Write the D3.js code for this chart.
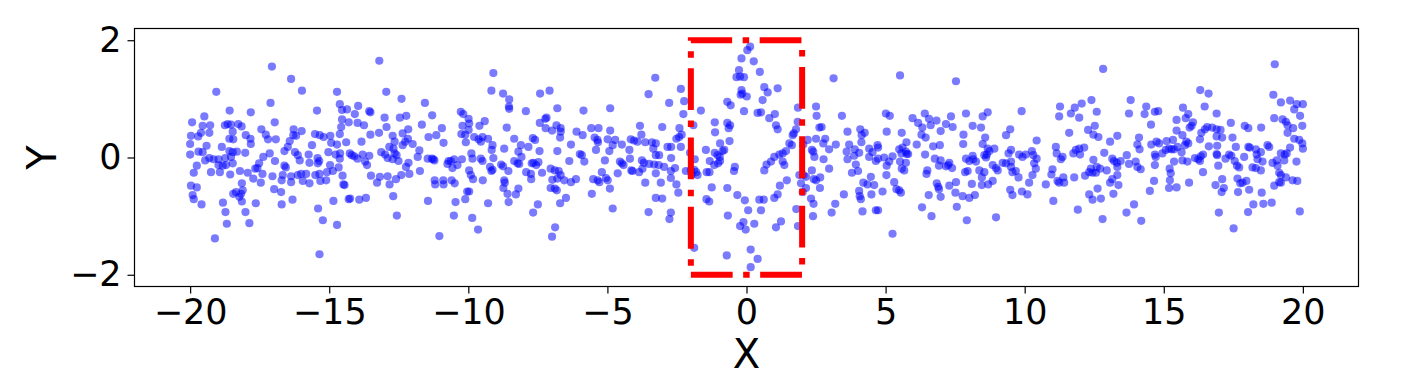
<!DOCTYPE html>
<html>
<head>
<meta charset="UTF-8">
<script src="https://cdn.jsdelivr.net/npm/d3@7"></script>
<style>
  html, body { margin: 0; padding: 0; background: #fff; }
  svg { display: block; font-family: "DejaVu Sans", sans-serif; }
</style>
</head>
<body>
<svg id="chart" width="1410" height="382"></svg>
<script>
// scatter points, [x, y]
const points = [
  [-17.06,1.55],[-19.06,1.12],[-17.11,0.93],[-18.58,0.80],[-17.82,0.77],[-19.49,0.70],[-19.93,0.60],[-16.96,0.60],[-18.75,0.55],[-18.65,0.57],[-18.53,0.56],[-18.27,0.57],[-18.15,0.53],[-19.55,0.54],[-19.28,0.55],[-17.44,0.48],[-19.97,0.37],[-19.71,0.36],[-19.61,0.42],[-19.31,0.42],[-18.47,0.44],[-18.45,0.31],[-18.00,0.38],[-17.83,0.32],[-17.28,0.39],[-17.20,0.31],[-16.92,0.31],[-18.59,0.32],[-20.00,0.23],[-19.41,0.20],[-17.82,0.23],[-18.86,0.18],[-20.00,0.05],[-19.70,0.10],[-19.55,0.09],[-18.59,0.11],[-18.47,0.09],[-18.32,0.10],[-18.02,0.08],[-17.14,0.07],[-19.31,-0.01],[-19.16,-0.03],[-18.98,-0.03],[-18.74,-0.01],[-18.53,0.01],[-17.37,0.01],[-16.95,-0.06],[-19.76,-0.14],[-19.46,-0.05],[-18.98,-0.13],[-18.83,-0.14],[-18.71,-0.13],[-18.47,-0.10],[-17.52,-0.10],[-17.58,-0.18],[-19.87,-0.26],[-19.25,-0.25],[-18.93,-0.25],[-18.56,-0.29],[-18.21,-0.23],[-17.93,-0.26],[-17.66,-0.19],[-17.40,-0.28],[-17.04,-0.32],[-17.73,-0.36],[-17.46,-0.43],[-18.14,-0.44],[-19.97,-0.48],[-19.76,-0.51],[-16.98,-0.54],[-18.35,-0.59],[-18.11,-0.56],[-18.17,-0.62],[-18.45,-0.62],[-18.23,-0.67],[-19.91,-0.64],[-19.87,-0.71],[-18.14,-0.75],[-19.59,-0.80],[-18.82,-0.77],[-17.64,-0.78],[-18.73,-0.93],[-18.01,-0.93],[-18.68,-1.13],[-17.87,-1.12],[-19.11,-1.38],
  [-16.37,1.34],[-15.98,1.14],[-14.72,1.12],[-15.44,0.80],[-14.62,0.91],[-14.54,0.81],[-14.36,0.82],[-13.96,0.88],[-13.56,0.79],[-13.52,0.77],[-14.54,0.65],[-14.30,0.60],[-14.08,0.74],[-13.98,0.59],[-13.75,0.55],[-16.28,0.48],[-15.99,0.45],[-16.29,0.38],[-16.19,0.37],[-14.57,0.52],[-14.62,0.40],[-15.51,0.40],[-15.34,0.38],[-15.20,0.35],[-14.96,0.37],[-13.52,0.39],[-16.42,0.28],[-16.49,0.18],[-16.61,0.11],[-15.62,0.21],[-14.72,0.22],[-14.39,0.26],[-13.84,0.27],[-14.93,0.25],[-16.23,0.09],[-16.13,0.04],[-16.06,-0.05],[-15.74,0.05],[-15.42,-0.01],[-15.36,-0.06],[-15.03,0.09],[-14.77,0.05],[-14.61,0.07],[-14.62,-0.02],[-14.26,0.07],[-14.19,0.04],[-14.10,0.02],[-13.98,-0.02],[-13.80,0.05],[-13.71,-0.07],[-13.64,-0.13],[-13.56,0.03],[-16.61,-0.14],[-16.56,-0.17],[-15.71,-0.09],[-15.41,-0.10],[-14.97,-0.13],[-14.66,-0.17],[-16.13,-0.30],[-16.01,-0.28],[-15.83,-0.28],[-16.37,-0.32],[-15.50,-0.30],[-15.35,-0.28],[-15.08,-0.25],[-15.32,-0.40],[-16.67,-0.30],[-16.71,-0.39],[-16.37,-0.42],[-15.95,-0.40],[-15.71,-0.44],[-15.11,-0.39],[-14.87,-0.23],[-14.52,-0.31],[-14.49,-0.46],[-14.45,-0.47],[-13.50,-0.31],[-16.73,-0.59],[-16.71,-0.80],[-16.32,-0.72],[-14.85,-0.74],[-14.30,-0.71],[-14.25,-0.70],[-13.92,-0.72],[-13.68,-0.69],[-15.40,-0.87],[-15.23,-1.07],[-14.72,-1.15],[-15.35,-1.65],
  [-13.20,1.65],[-12.95,1.12],[-12.40,1.00],[-11.56,0.93],[-10.27,0.78],[-10.18,0.74],[-11.30,0.72],[-13.01,0.68],[-12.46,0.68],[-12.23,0.71],[-12.94,0.52],[-10.21,0.54],[-11.67,0.56],[-10.95,0.50],[-13.21,0.42],[-12.72,0.37],[-12.36,0.41],[-12.16,0.48],[-11.15,0.38],[-11.43,0.35],[-10.25,0.40],[-10.11,0.39],[-12.65,0.27],[-12.27,0.27],[-12.17,0.32],[-12.00,0.23],[-10.89,0.25],[-10.09,0.26],[-12.84,0.18],[-12.69,0.15],[-12.36,0.21],[-11.76,0.12],[-13.13,0.09],[-12.99,0.05],[-12.90,-0.01],[-12.65,0.07],[-12.58,0.04],[-12.72,-0.03],[-11.82,0.01],[-11.46,-0.02],[-11.31,-0.02],[-11.26,-0.03],[-11.22,-0.05],[-12.51,-0.06],[-12.15,-0.09],[-12.24,-0.16],[-10.71,-0.06],[-10.75,-0.11],[-10.63,-0.06],[-10.51,-0.03],[-10.23,-0.03],[-10.57,-0.18],[-10.39,-0.13],[-11.74,-0.23],[-12.12,-0.28],[-12.41,-0.30],[-13.18,-0.33],[-12.90,-0.32],[-12.60,-0.37],[-12.83,-0.46],[-13.28,-0.43],[-11.21,-0.39],[-11.19,-0.46],[-10.90,-0.39],[-10.89,-0.46],[-10.60,-0.39],[-10.49,-0.44],[-10.04,-0.58],[-12.70,-0.66],[-11.45,-0.74],[-10.46,-0.76],[-10.11,-0.71],[-12.57,-0.99],[-10.52,-0.99],[-11.04,-1.34],
  [-9.10,1.44],[-9.17,1.14],[-8.75,1.09],[-8.53,0.99],[-8.54,0.87],[-8.53,0.83],[-7.42,1.09],[-7.08,1.14],[-7.93,0.79],[-6.80,0.84],[-7.19,0.68],[-7.23,0.66],[-7.43,0.59],[-7.22,0.50],[-6.99,0.46],[-6.83,0.55],[-6.68,0.50],[-6.68,0.44],[-9.99,0.66],[-9.97,0.58],[-9.99,0.47],[-9.41,0.62],[-9.60,0.54],[-8.62,0.51],[-9.79,0.35],[-9.49,0.35],[-9.29,0.32],[-9.55,0.27],[-9.63,0.31],[-8.35,0.32],[-7.68,0.33],[-7.60,0.30],[-6.70,0.34],[-9.13,0.21],[-8.71,0.15],[-8.11,0.21],[-7.84,0.18],[-7.44,0.11],[-6.80,0.11],[-9.89,0.07],[-9.85,-0.02],[-9.55,-0.02],[-9.49,-0.06],[-9.16,0.13],[-9.10,-0.01],[-8.20,0.10],[-8.09,0.01],[-8.35,-0.06],[-8.23,-0.10],[-8.17,-0.11],[-7.72,-0.10],[-7.66,-0.09],[-7.48,-0.08],[-7.56,-0.13],[-8.82,-0.12],[-8.75,-0.15],[-9.22,-0.16],[-9.13,-0.21],[-9.17,-0.23],[-8.56,-0.23],[-9.97,-0.22],[-9.91,-0.30],[-9.83,-0.37],[-9.48,-0.39],[-7.92,-0.25],[-7.75,-0.28],[-7.74,-0.37],[-7.35,-0.26],[-7.04,-0.19],[-6.89,-0.22],[-6.75,-0.23],[-6.98,-0.38],[-6.80,-0.36],[-6.68,-0.30],[-8.71,-0.39],[-8.69,-0.43],[-8.74,-0.52],[-8.59,-0.62],[-8.29,-0.63],[-8.20,-0.53],[-7.04,-0.52],[-6.89,-0.53],[-6.82,-0.56],[-9.97,-0.58],[-9.29,-0.78],[-8.55,-0.76],[-7.50,-0.80],[-7.67,-0.94],[-6.70,-0.78],[-9.86,-1.03],[-9.65,-1.23],[-6.88,-1.19],[-6.99,-1.35],
  [-3.28,1.36],[-3.52,1.08],[-5.86,0.80],[-4.90,0.84],[-3.83,0.54],[-3.78,0.39],[-5.58,0.50],[-5.32,0.50],[-4.90,0.46],[-6.11,0.44],[-5.89,0.38],[-5.46,0.34],[-5.36,0.30],[-5.34,0.26],[-5.41,0.13],[-4.99,0.31],[-4.72,0.30],[-4.81,0.21],[-4.93,0.11],[-4.48,0.22],[-4.16,0.31],[-4.04,0.29],[-3.92,0.27],[-3.64,0.26],[-3.40,0.26],[-3.26,0.24],[-6.31,0.22],[-4.21,0.13],[-3.35,0.15],[-3.26,0.04],[-5.99,0.06],[-5.92,0.04],[-5.83,-0.07],[-6.37,-0.06],[-5.09,-0.05],[-4.55,-0.07],[-4.48,-0.10],[-4.42,-0.13],[-4.19,-0.02],[-3.76,-0.05],[-3.69,-0.09],[-3.50,-0.11],[-3.32,-0.12],[-6.55,-0.39],[-3.74,-0.19],[-3.86,-0.25],[-4.10,-0.23],[-4.14,-0.22],[-4.63,-0.27],[-5.20,-0.25],[-5.05,-0.35],[-4.99,-0.39],[-5.35,-0.39],[-5.29,-0.42],[-5.51,-0.37],[-6.13,-0.37],[-6.31,-0.42],[-3.26,-0.27],[-4.91,-0.53],[-3.64,-0.43],[-5.56,-0.62],[-6.49,-0.69],[-3.26,-0.69],[-4.81,-0.87],[-3.52,-0.93],
  [-2.36,1.17],[-2.78,0.93],[-2.24,0.96],[-2.27,0.74],[-1.64,0.80],[-3.03,0.52],[-2.41,0.50],[-2.33,0.39],[-2.42,0.35],[-2.52,0.32],[-1.91,0.55],[-1.14,0.60],[-1.13,0.43],[-0.69,0.59],[-0.59,0.55],[-0.64,0.50],[-0.61,0.28],[-0.95,0.24],[-2.84,0.18],[-2.71,0.18],[-2.36,0.18],[-3.14,0.04],[-1.46,0.13],[-1.14,0.08],[-1.04,0.04],[-0.86,0.11],[-0.96,0.01],[-0.80,0.13],[-2.03,0.08],[-1.86,-0.03],[-2.71,-0.01],[-3.16,-0.13],[-3.08,-0.43],[-2.96,-0.16],[-2.57,-0.18],[-2.72,-0.23],[-2.72,-0.35],[-1.32,-0.06],[-1.02,-0.10],[-0.95,-0.06],[-1.16,-0.13],[-2.18,-0.23],[-2.00,-0.22],[-1.88,-0.21],[-1.81,-0.25],[-1.76,-0.30],[-1.97,-0.30],[-1.43,-0.25],[-1.33,-0.25],[-0.42,-0.16],[-0.45,-0.23],[-2.52,-0.46],[-2.45,-0.60],[-1.25,-0.51],[-0.69,-0.52],[-1.44,-0.71],[-1.34,-0.75],[-3.03,-0.70],[-0.33,-0.64],[-0.06,-0.73],[0.06,-0.90],[-2.72,-0.94],[-2.77,-1.05],[-0.67,-0.99],[-0.23,-1.17],[-0.11,-1.10],[-0.03,-1.23],[-1.88,-1.54],[-0.71,-1.67],[0.15,-1.57],[0.15,-1.87],[0.03,1.83],[0.13,1.89],[-0.18,1.69],[-0.27,1.49],[-0.36,1.37],[-0.23,1.38],[-0.09,1.37],[-0.18,1.15],[-0.15,1.09],[0.01,1.04],[-0.21,1.07],[-0.09,0.79],[-0.69,0.95],[-0.57,0.89],
  [0.26,1.64],[0.48,1.46],[3.13,1.35],[0.64,1.20],[0.76,1.11],[1.12,1.18],[0.58,0.98],[0.40,0.76],[0.52,0.77],[0.82,0.67],[1.02,0.74],[1.06,0.55],[1.12,0.48],[1.85,0.85],[2.50,0.87],[2.52,0.71],[2.62,0.51],[2.70,0.52],[3.43,0.71],[3.63,0.44],[1.84,0.61],[1.78,0.48],[1.70,0.41],[1.66,0.38],[2.50,0.32],[2.83,0.32],[2.76,0.24],[3.21,0.22],[2.20,0.30],[2.04,0.22],[1.54,0.24],[1.63,0.21],[1.42,0.11],[1.30,0.07],[1.18,0.05],[2.35,0.13],[2.40,0.10],[2.97,0.14],[1.00,0.01],[0.88,-0.07],[0.72,-0.12],[0.64,-0.22],[1.30,-0.07],[1.36,-0.13],[2.44,0.01],[2.77,-0.03],[3.60,0.10],[3.63,-0.03],[2.35,-0.22],[2.42,-0.37],[2.50,-0.39],[1.90,-0.30],[2.05,-0.30],[2.14,-0.33],[1.96,-0.44],[2.65,-0.34],[2.97,-0.19],[1.20,-0.48],[1.45,-0.39],[2.02,-0.59],[2.14,-0.52],[2.32,-0.70],[2.41,-0.79],[2.64,-0.52],[1.12,-0.63],[1.00,-0.69],[0.46,-0.72],[0.62,-0.72],[0.52,-0.90],[3.19,-0.79],[3.06,-0.94],[3.50,-0.63],[1.79,-0.88],[2.39,-1.00],[1.24,-1.09],[1.06,-1.19],[1.85,-1.17],[0.28,-1.13],[0.40,-1.73],
  [5.52,1.40],[5.01,0.75],[5.15,0.71],[5.97,0.67],[6.17,0.59],[6.41,0.75],[6.56,0.66],[6.62,0.55],[6.83,0.63],[6.32,0.51],[6.29,0.39],[6.44,0.34],[6.98,0.45],[4.09,0.48],[4.14,0.38],[4.25,0.42],[4.13,0.26],[5.04,0.44],[5.58,0.42],[5.75,0.26],[5.61,0.17],[6.12,0.22],[6.71,0.19],[6.95,0.21],[3.69,0.22],[3.87,0.03],[3.89,0.14],[4.05,0.08],[4.41,0.15],[4.71,0.21],[4.73,0.17],[4.53,0.09],[4.41,0.01],[4.73,-0.02],[4.65,-0.06],[4.95,0.00],[5.25,0.02],[5.49,0.14],[5.57,0.07],[5.76,0.06],[5.73,0.10],[5.81,0.06],[6.42,0.05],[6.77,-0.02],[6.92,-0.14],[6.98,-0.05],[5.13,-0.07],[5.04,-0.14],[5.52,-0.07],[5.73,-0.09],[5.58,-0.19],[5.67,-0.22],[3.93,-0.12],[4.01,-0.23],[3.79,-0.26],[6.50,-0.22],[6.47,-0.28],[5.03,-0.30],[4.47,-0.33],[4.20,-0.43],[4.35,-0.46],[4.59,-0.47],[5.31,-0.42],[5.39,-0.54],[5.49,-0.56],[5.55,-0.60],[4.89,-0.58],[4.05,-0.57],[4.07,-0.66],[4.11,-0.71],[4.49,-0.63],[6.84,-0.44],[6.89,-0.50],[6.92,-0.54],[6.98,-0.67],[6.55,-0.64],[6.31,-0.85],[6.65,-1.00],[4.17,-0.92],[4.65,-0.90],[4.73,-0.90],[5.25,-1.30],
  [7.53,1.30],[9.89,0.79],[7.89,0.75],[8.49,0.70],[8.67,0.77],[7.35,0.70],[7.17,0.57],[7.41,0.52],[8.13,0.54],[8.43,0.51],[7.80,0.39],[7.79,0.23],[8.58,0.34],[8.49,0.23],[8.67,0.15],[8.91,0.15],[8.73,0.11],[9.33,0.38],[9.48,0.48],[9.51,0.13],[9.42,0.07],[9.80,0.05],[9.92,0.01],[10.04,0.05],[10.26,0.11],[10.31,0.04],[10.43,0.29],[10.43,-0.02],[7.89,-0.02],[8.13,0.03],[8.15,-0.03],[8.25,-0.07],[8.01,-0.06],[8.55,0.04],[8.61,0.00],[8.64,0.05],[7.29,-0.09],[7.25,-0.13],[7.39,-0.18],[7.17,-0.15],[7.86,-0.25],[7.95,-0.23],[8.37,-0.22],[8.55,-0.25],[8.46,-0.34],[8.85,-0.13],[8.97,-0.18],[9.03,-0.22],[9.33,-0.10],[9.21,-0.09],[9.51,-0.07],[9.51,-0.16],[9.56,-0.25],[9.68,-0.23],[9.78,-0.34],[10.34,-0.10],[10.40,-0.19],[10.28,-0.30],[10.16,-0.43],[8.85,-0.40],[8.69,-0.46],[8.46,-0.47],[8.10,-0.45],[7.53,-0.42],[7.29,-0.48],[7.51,-0.60],[7.77,-0.66],[8.01,-0.69],[8.21,-0.64],[9.48,-0.55],[9.56,-0.64],[9.90,-0.58],[10.10,-0.63],[7.56,-0.84],[7.92,-1.07],[8.97,-1.02],
  [12.82,1.51],[12.40,0.98],[12.05,0.92],[11.80,0.85],[11.66,0.75],[11.27,0.87],[11.24,0.70],[11.96,0.68],[12.59,0.78],[13.81,0.98],[13.75,0.75],[12.52,0.54],[12.28,0.47],[12.47,0.39],[12.65,0.35],[13.33,0.37],[13.07,0.27],[11.60,0.42],[11.12,0.18],[11.15,0.07],[11.36,0.01],[11.30,-0.03],[11.75,0.07],[11.84,0.13],[11.96,0.15],[12.14,0.17],[11.99,0.05],[12.86,0.08],[12.47,-0.04],[13.15,-0.02],[13.21,-0.06],[13.31,-0.09],[13.45,-0.06],[13.67,0.04],[13.75,-0.11],[13.33,-0.16],[11.00,-0.20],[10.96,-0.29],[11.18,-0.40],[11.39,-0.34],[11.42,-0.43],[11.24,-0.43],[11.78,-0.34],[12.17,-0.31],[12.32,-0.25],[12.44,-0.26],[12.38,-0.19],[12.59,-0.16],[12.56,-0.26],[12.71,-0.19],[12.95,-0.22],[13.33,-0.30],[13.15,-0.37],[13.07,-0.43],[13.37,-0.47],[10.76,-0.46],[12.62,-0.53],[12.32,-0.63],[12.44,-0.72],[12.74,-0.70],[13.19,-0.62],[11.03,-0.74],[11.91,-0.89],[12.80,-1.05],[13.66,-0.94],
  [16.31,1.15],[16.61,1.09],[16.47,0.87],[16.90,0.75],[14.37,0.87],[14.31,0.74],[14.68,0.78],[14.80,0.79],[15.69,0.85],[15.79,0.67],[15.88,0.74],[15.46,0.64],[16.05,0.60],[16.00,0.54],[15.93,0.51],[14.54,0.56],[16.74,0.51],[16.56,0.52],[16.48,0.48],[16.35,0.42],[16.90,0.48],[17.04,0.47],[16.90,0.36],[17.10,0.34],[15.67,0.38],[15.46,0.46],[14.11,0.34],[14.05,0.22],[14.13,0.14],[14.55,0.22],[14.74,0.27],[14.83,0.24],[15.10,0.28],[15.33,0.30],[15.81,0.27],[15.88,0.24],[15.76,0.21],[16.30,0.31],[16.62,0.19],[16.92,0.20],[16.90,0.06],[16.92,0.04],[15.07,0.13],[15.19,0.15],[15.28,0.14],[15.37,0.14],[15.49,0.18],[15.64,0.09],[14.95,0.07],[14.68,0.05],[14.71,0.01],[14.68,-0.13],[13.99,-0.07],[14.05,-0.16],[14.17,-0.20],[15.37,-0.07],[15.67,-0.05],[15.85,-0.07],[16.12,-0.01],[16.24,-0.03],[16.30,-0.06],[16.41,0.05],[16.33,0.02],[17.22,-0.02],[16.96,-0.14],[16.41,-0.25],[15.21,-0.19],[15.25,-0.27],[15.22,-0.39],[15.19,-0.52],[15.46,-0.51],[15.91,-0.43],[14.65,-0.40],[14.50,-0.57],[17.10,-0.37],[16.86,-0.47],[17.16,-0.52],[17.08,-0.59],[13.93,-0.80],[14.19,-1.08],[16.98,-0.94],
  [18.99,1.59],[18.94,1.07],[19.21,0.94],[19.54,0.97],[19.78,0.91],[20.00,0.91],[19.69,0.82],[19.90,0.71],[18.97,0.67],[19.27,0.65],[19.39,0.61],[19.45,0.55],[19.65,0.50],[19.98,0.54],[17.41,0.59],[17.91,0.54],[18.04,0.50],[18.50,0.51],[19.45,0.42],[17.47,0.34],[19.69,0.32],[19.87,0.30],[19.98,0.24],[20.00,0.15],[17.59,0.18],[18.04,0.18],[18.09,0.17],[18.31,0.14],[18.49,0.09],[18.73,0.21],[18.79,0.18],[19.54,0.17],[19.42,0.07],[19.35,0.05],[19.21,0.07],[17.35,0.05],[17.43,0.03],[17.89,0.01],[18.34,0.05],[18.37,-0.03],[18.55,-0.07],[18.49,-0.22],[18.91,-0.09],[19.06,-0.05],[19.09,-0.14],[19.15,-0.26],[19.21,-0.30],[19.33,-0.05],[19.77,-0.07],[17.55,-0.06],[17.63,-0.14],[17.71,-0.17],[18.19,-0.17],[18.31,-0.18],[19.39,-0.34],[19.63,-0.39],[19.80,-0.40],[17.65,-0.36],[17.75,-0.44],[17.97,-0.40],[17.83,-0.43],[19.15,-0.42],[19.21,-0.43],[18.97,-0.48],[17.67,-0.59],[18.07,-0.55],[18.52,-0.60],[18.22,-0.80],[18.58,-0.79],[18.88,-0.77],[18.03,-0.93],[19.89,-0.92],[17.51,-1.21]
];

const xDomain = [-22, 22];
const yDomain = [-2.2, 2.2];
const xTicks = [-20, -15, -10, -5, 0, 5, 10, 15, 20];
const yTicks = [-2, 0, 2];
const boxX = [-2, 2];
const boxY = [-2, 2];
const xLabel = "X";
const yLabel = "Y";

const frame = {left: 134.5, right: 1358.5, top: 28.5, bottom: 286.5};
const svg = d3.select("#chart");

const x = d3.scaleLinear().domain(xDomain).range([frame.left, frame.right]);
const y = d3.scaleLinear().domain(yDomain).range([frame.bottom, frame.top]);

const fmt = d => d < 0 ? "\u2212" + Math.abs(d) : String(d);

// points
svg.append("g")
  .selectAll("circle")
  .data(points)
  .join("circle")
  .attr("cx", d => x(d[0]))
  .attr("cy", d => y(d[1]))
  .attr("r", 4.1)
  .attr("fill", "rgba(0,0,255,0.52)");

// red dash-dot box
const boxPath = d3.path();
boxPath.moveTo(x(boxX[0]), y(boxY[0]));
boxPath.lineTo(x(boxX[1]), y(boxY[0]));
boxPath.lineTo(x(boxX[1]), y(boxY[1]));
boxPath.lineTo(x(boxX[0]), y(boxY[1]));
boxPath.closePath();
svg.append("path")
  .attr("d", boxPath.toString())
  .attr("fill", "none")
  .attr("stroke", "#ff0000")
  .attr("stroke-width", 6)
  .attr("stroke-dasharray", "41.8 10.5 6.5 10.5");

// frame
svg.append("rect")
  .attr("x", frame.left).attr("y", frame.top)
  .attr("width", frame.right - frame.left)
  .attr("height", frame.bottom - frame.top)
  .attr("fill", "none").attr("stroke", "#000").attr("stroke-width", 1.2);

// axes
const xAxis = d3.axisBottom(x).tickValues(xTicks).tickFormat(fmt).tickSize(7).tickPadding(6);
const yAxis = d3.axisLeft(y).tickValues(yTicks).tickFormat(fmt).tickSize(7).tickPadding(6);

const gx = svg.append("g").attr("transform", `translate(0,${frame.bottom})`).call(xAxis);
const gy = svg.append("g").attr("transform", `translate(${frame.left},0)`).call(yAxis);
[gx, gy].forEach(g => {
  g.select(".domain").remove();
  g.selectAll(".tick line").attr("stroke", "#000").attr("stroke-width", 1.2);
  g.selectAll(".tick text")
    .attr("fill", "#000")
    .style("font-family", "DejaVu Sans")
    .style("font-size", "35px");
});

svg.append("text")
  .attr("x", (frame.left + frame.right) / 2)
  .attr("y", 368)
  .attr("text-anchor", "middle")
  .style("font-size", "40px")
  .text(xLabel);

svg.append("text")
  .attr("transform", `translate(56,${(frame.top + frame.bottom) / 2}) rotate(-90)`)
  .attr("text-anchor", "middle")
  .style("font-size", "40px")
  .text(yLabel);
</script>
</body>
</html>
